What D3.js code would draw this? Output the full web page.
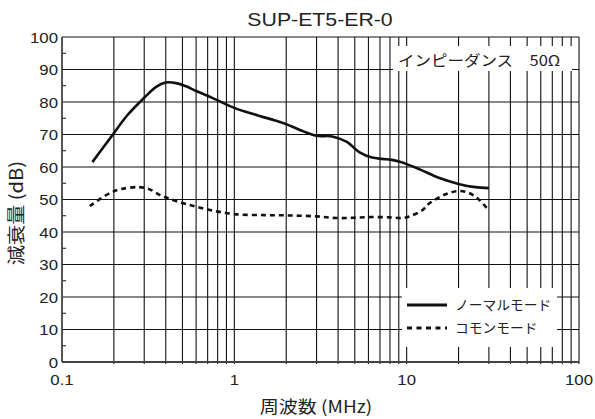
<!DOCTYPE html>
<html><head><meta charset="utf-8">
<script src="https://cdn.jsdelivr.net/npm/d3@7"></script>
<style>body{margin:0;background:#fff}svg{display:block}</style>
</head><body>
<svg id="c" width="595" height="419"></svg>
<script>
const title = "SUP-ET5-ER-0";
const yTicks = [0,10,20,30,40,50,60,70,80,90,100];
const xTickLabels = [[0.1,"0.1"],[1,"1"],[10,"10"],[100,"100"]];
const freqNormal = [0.15,0.19,0.24,0.3,0.35,0.4,0.46,0.52,0.6,0.75,1.0,1.3,1.7,2.0,2.4,3.0,3.7,4.5,5.3,6.3,7.2,8.2,9.3,12,15.5,20,25,30];
const normalMode = [61.5,68.8,76.0,81.3,84.6,86.0,85.8,84.9,83.4,81.2,78.2,76.2,74.4,73.2,71.4,69.6,69.4,67.7,64.6,62.9,62.5,62.2,61.5,59.2,56.6,54.8,53.8,53.5];
const freqCommon = [0.145,0.19,0.22,0.28,0.32,0.37,0.42,0.55,0.72,1.0,1.5,2.1,3.0,3.9,5.0,6.3,8.0,9.5,10.5,12.4,13.6,17,20,23,26.5,29.5];
const commonMode = [48,52,53.2,53.8,53.2,51.4,50.2,48.3,46.8,45.5,45.2,45.1,44.8,44.3,44.4,44.6,44.5,44.3,44.9,46.8,48.9,51.7,52.6,52,49.8,47];
const seriesNames = ["ノーマルモード","コモンモード"];
const impedanceLabel = "インピーダンス　50Ω";
const xTitle = "周波数 (MHz)";
const yTitle = "減衰量 (dB)";

const svg = d3.select("#c");
const L=62,R=579,T=37,B=362;
const x = d3.scaleLog().domain([0.1,100]).range([L,R]);
const y = d3.scaleLinear().domain([0,100]).range([B,T]);
const latin = "'Liberation Sans',Arial,sans-serif";
const cjk = "'Noto Sans CJK JP','Liberation Sans',sans-serif";
const SX = 1.12;

function addText(g, px, py, str, size, font, anchor, sx, rot){
  return g.append("text")
    .attr("transform", `translate(${px},${py})` + (rot?` rotate(${rot})`:"") + ` scale(${sx},1)`)
    .attr("text-anchor", anchor||"start")
    .attr("font-family", font).attr("font-size", size).attr("fill","#222").text(str);
}

// vertical grid
const vx = [];
for (let d=0.1; d<100; d*=10) for (let k=1;k<=9;k++) vx.push(d*k);
vx.push(100);
svg.append("g").selectAll("line").data(vx.filter(v=>v>0.1)).join("line")
  .attr("x1",d=>x(d)).attr("x2",d=>x(d)).attr("y1",T).attr("y2",B+2)
  .attr("stroke","#111").attr("stroke-width",1.1);
// horizontal grid
svg.append("g").selectAll("line").data(yTicks.filter(v=>v>0)).join("line")
  .attr("x1",L).attr("x2",R).attr("y1",d=>y(d)).attr("y2",d=>y(d))
  .attr("stroke","#111").attr("stroke-width",1.1);
// minor ticks at 5s
svg.append("g").selectAll("line").data(d3.range(5,100,10)).join("line")
  .attr("x1",L).attr("x2",L+4).attr("y1",d=>y(d)).attr("y2",d=>y(d))
  .attr("stroke","#111").attr("stroke-width",1);
// axes
svg.append("line").attr("x1",L).attr("x2",L).attr("y1",T).attr("y2",B).attr("stroke","#444").attr("stroke-width",1.8);
svg.append("line").attr("x1",L).attr("x2",R).attr("y1",B).attr("y2",B).attr("stroke","#444").attr("stroke-width",1.8);

// boxes
svg.append("rect").attr("x",393).attr("y",46).attr("width",179).attr("height",25).attr("fill","#fff");
svg.append("rect").attr("x",402).attr("y",288).attr("width",155).attr("height",59).attr("fill","#fff");

// curves
const line = (fs)=>d3.line().x((d,i)=>x(fs[i])).y(d=>y(d)).curve(d3.curveCatmullRom.alpha(0.5));
svg.append("path").datum(normalMode).attr("d",line(freqNormal))
  .attr("fill","none").attr("stroke","#111").attr("stroke-width",2.6);
svg.append("path").datum(commonMode).attr("d",line(freqCommon))
  .attr("fill","none").attr("stroke","#111").attr("stroke-width",2.6).attr("stroke-dasharray","5,4");

// legend
svg.append("line").attr("x1",407).attr("x2",447).attr("y1",305).attr("y2",305).attr("stroke","#111").attr("stroke-width",2.8);
svg.append("line").attr("x1",407).attr("x2",447).attr("y1",328).attr("y2",328).attr("stroke","#111").attr("stroke-width",2.8).attr("stroke-dasharray","5,4.5");
addText(svg, 455, 310, seriesNames[0], 13.5, cjk, "start", 1.02);
addText(svg, 455, 333, seriesNames[1], 13.5, cjk, "start", 1.02);

// impedance label
addText(svg, 398, 66, impedanceLabel, 15, cjk, "start", 1.1);

// tick labels
yTicks.forEach(d=>addText(svg, 58, y(d)+5.5, String(d), 15, latin, "end", SX));
xTickLabels.forEach(d=>addText(svg, x(d[0]), 385, d[1], 15, latin, "middle", SX));

// titles
addText(svg, 320, 26, title, 19, latin, "middle", SX);
addText(svg, 316, 413, xTitle, 17, cjk, "middle", SX);
addText(svg, 23, 213, yTitle, 18, cjk, "middle", SX, -90);
</script>
</body></html>
